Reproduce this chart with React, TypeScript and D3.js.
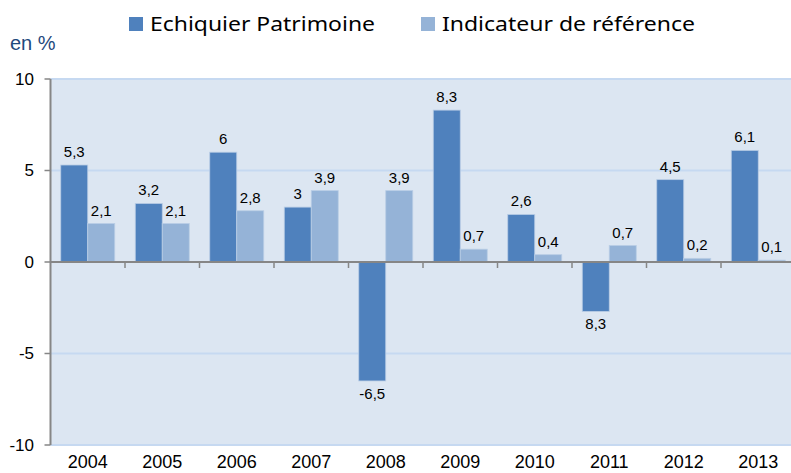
import * as d3 from "d3";

const years = ["2004", "2005", "2006", "2007", "2008", "2009", "2010", "2011", "2012", "2013"];
const fundValues = [5.3, 3.2, 6, 3, -6.5, 8.3, 2.6, -2.7, 4.5, 6.1];
const benchValues = [2.1, 2.1, 2.8, 3.9, 3.9, 0.7, 0.4, 0.9, 0.2, 0.1];
const fundLabels = ["5,3", "3,2", "6", "3", "-6,5", "8,3", "2,6", "8,3", "4,5", "6,1"];
const benchLabels = ["2,1", "2,1", "2,8", "3,9", "3,9", "0,7", "0,4", "0,7", "0,2", "0,1"];
const yTicks = [-10, -5, 0, 5, 10];
const seriesNames = ["Echiquier Patrimoine", "Indicateur de référence"];
const seriesColors = ["#4F81BD", "#95B3D7"];

const W = 791;
const H = 473;
const left = 50.5;
const top = 79;
const bottom = 445;
const step = 74.5;

const x = d3.scaleBand<string>().domain(years).range([left, left + step * years.length]);
const xSub = d3
  .scaleBand<number>()
  .domain([0, 1])
  .range([0, x.bandwidth()])
  .paddingOuter(0.38)
  .paddingInner(0);
const y = d3.scaleLinear().domain([-10, 10]).range([bottom, top]);

const font = "Liberation Sans, Arial, sans-serif";

export default function App() {
  const series = [fundValues, benchValues];
  const labels = [fundLabels, benchLabels];
  return (
    <svg
      width={W}
      height={H}
      style={{ position: "absolute", left: 0, top: 0, background: "#fff" }}
    >
      <rect x={left} y={top} width={W - left} height={bottom - top} fill="#DCE6F2" />
      {yTicks
        .filter(t => t !== 0)
        .map(t => (
          <line key={t} x1={left} x2={W} y1={y(t)} y2={y(t)} stroke="#C6D9F1" strokeWidth={2} />
        ))}

      {series.map((vals, s) =>
        vals.map((v, i) => {
          const bx = (x(years[i]) as number) + (xSub(s) as number);
          const by = v >= 0 ? y(v) : y(0);
          const bh = Math.abs(y(v) - y(0));
          return (
            <rect
              key={`${s}-${i}`}
              x={bx}
              y={by}
              width={xSub.bandwidth()}
              height={bh}
              fill={seriesColors[s]}
              stroke="#B9CDE5"
              strokeWidth={0.8}
            />
          );
        })
      )}

      {series.map((vals, s) =>
        vals.map((v, i) => {
          const cx = (x(years[i]) as number) + (xSub(s) as number) + xSub.bandwidth() / 2;
          const ly = v >= 0 ? y(v) - 8 : y(v) + 18;
          return (
            <text
              key={`l${s}-${i}`}
              x={cx}
              y={ly}
              textAnchor="middle"
              fontFamily={font}
              fontSize={15}
              fill="#000"
            >
              {labels[s][i]}
            </text>
          );
        })
      )}

      <line x1={left} x2={W} y1={y(0)} y2={y(0)} stroke="#868686" strokeWidth={2} />
      {years.slice(1).map(yr => (
        <line
          key={yr}
          x1={x(yr) as number}
          x2={x(yr) as number}
          y1={y(0)}
          y2={y(0) + 6}
          stroke="#868686"
          strokeWidth={1.5}
        />
      ))}

      <line x1={left} x2={left} y1={top} y2={bottom} stroke="#868686" strokeWidth={2} />
      {yTicks.map(t => (
        <g key={t}>
          <line x1={left - 6} x2={left} y1={y(t)} y2={y(t)} stroke="#868686" strokeWidth={1.5} />
          <text
            x={34}
            y={y(t)}
            dy="0.35em"
            textAnchor="end"
            fontFamily={font}
            fontSize={17}
            fill="#000"
          >
            {t}
          </text>
        </g>
      ))}

      {years.map(yr => (
        <text
          key={yr}
          x={(x(yr) as number) + x.bandwidth() / 2}
          y={468}
          textAnchor="middle"
          fontFamily={font}
          fontSize={18}
          fill="#000"
        >
          {yr}
        </text>
      ))}

      <text x={10} y={50} fontFamily={font} fontSize={20} fill="#1F497D">
        en %
      </text>

      {seriesNames.map((name, s) => {
        const lx = s === 0 ? 129 : 421;
        return (
          <g key={name}>
            <rect x={lx} y={17} width={14} height={14} fill={seriesColors[s]} />
            <text
              x={lx + 21}
              y={31}
              fontFamily="Noto Sans, Open Sans, sans-serif"
              fontSize={20}
              fill="#000"
              textLength={s === 0 ? 225 : 253}
              lengthAdjust="spacingAndGlyphs"
            >
              {name}
            </text>
          </g>
        );
      })}
    </svg>
  );
}
